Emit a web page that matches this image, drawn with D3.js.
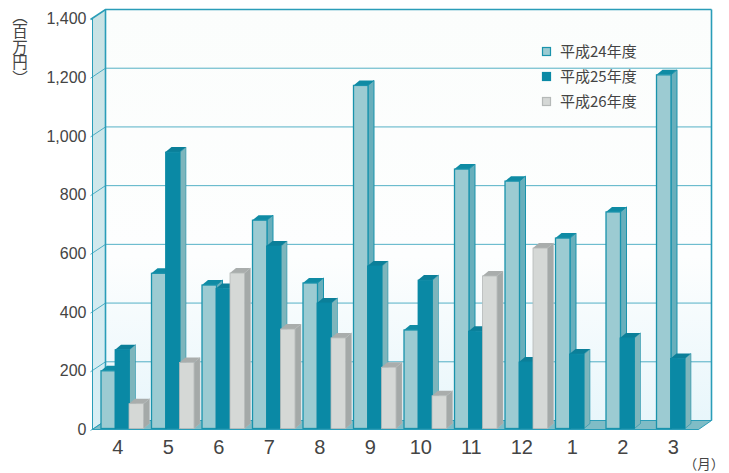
<!DOCTYPE html>
<html>
<head>
<meta charset="utf-8">
<script src="https://cdn.jsdelivr.net/npm/d3@7"></script>
<style>
  html, body { margin: 0; padding: 0; background: #fff; }
  svg { display: block; }
  text { font-family: "Liberation Sans", sans-serif; fill: #444; }
  .cjk { font-family: "Noto Sans CJK JP", sans-serif; }
</style>
</head>
<body>
<div id="chart"></div>
<script>
const WIDTH = 729;
const HEIGHT = 473;

// data
const months = ["4", "5", "6", "7", "8", "9", "10", "11", "12", "1", "2", "3"];
const seriesNames = ["平成24年度", "平成25年度", "平成26年度"];
const h24 = [200, 532, 492, 713, 499, 1172, 339, 887, 846, 652, 741, 1208];
const h25 = [272, 945, 480, 625, 431, 557, 509, 335, 230, 257, 312, 242];
const h26 = [88, 228, 533, 342, 312, 212, 115, 523, 618, null, null, null];
const yTicks = [0, 200, 400, 600, 800, 1000, 1200, 1400];

// front face, side, top
const barColors = [
  { front: "#9ccbd2", side: "#68afbc", top: "#0f8ba4", line: "#1a93ac" },
  { front: "#0a89a5", side: "#7db5bc", top: "#0b7f99", line: "#0a89a5" },
  { front: "#d5d8d6", side: "#a4a9a8", top: "#a9adac", line: "#b5b9b8" },
];

const TEAL = "#2a9db8";
const DX = 13, DY = -9; // depth of the box
const BAR_DX = 6, BAR_DY = -5; // depth of a bar

const svg = d3.select("#chart").append("svg").attr("width", WIDTH).attr("height", HEIGHT);

const x = d3.scaleBand().domain(d3.range(months.length)).range([92.5, 698.5]);
const xBar = d3.scaleBand().domain([0, 1, 2]).range([8.5, 50.5]);
const y = d3.scaleLinear().domain([0, 1400]).range([429.5, 18.5]);

const [x0, x1] = x.range();
const y0 = y(0), yTop = y(1400);
const poly = (pts) => pts.map((p) => p.join(",")).join(" ");

// gradient for the left wall
const defs = svg.append("defs");
const wall = defs.append("linearGradient").attr("id", "wall")
  .attr("x1", "0%").attr("x2", "0%").attr("y1", "0%").attr("y2", "100%");
wall.append("stop").attr("offset", "0%").attr("stop-color", "#c8e2e4");
wall.append("stop").attr("offset", "100%").attr("stop-color", "#d8eff5");

const back = defs.append("linearGradient").attr("id", "back")
  .attr("x1", "0%").attr("x2", "0%").attr("y1", "0%").attr("y2", "100%");
back.append("stop").attr("offset", "0%").attr("stop-color", "#fbfdfc");
back.append("stop").attr("offset", "60%").attr("stop-color", "#fdfefe");
back.append("stop").attr("offset", "100%").attr("stop-color", "#e8f6fb");

// back wall
svg.append("rect")
  .attr("x", x0 + DX).attr("y", yTop + DY)
  .attr("width", x1 - x0).attr("height", y0 - yTop)
  .attr("fill", "url(#back)");

// left wall
svg.append("polygon")
  .attr("points", poly([[x0, yTop], [x0 + DX, yTop + DY], [x0 + DX, y0 + DY], [x0, y0]]))
  .attr("fill", "url(#wall)");

// floor
svg.append("polygon")
  .attr("points", poly([[x0, y0], [x0 + DX, y0 + DY], [x1 + DX, y0 + DY], [x1, y0]]))
  .attr("fill", "#7fbcc6")
  .attr("stroke", TEAL)
  .attr("stroke-width", 1);

// grid lines, wall part and back part
const grid = svg.append("g").attr("fill", "none").attr("stroke", TEAL);
yTicks.forEach((t) => {
  grid.append("polyline")
    .attr("points", poly([[x0 - 2, y(t) + 1], [x0 + DX, y(t) + DY], [x1 + DX, y(t) + DY]]))
    .attr("stroke-width", t === 1400 ? 1.6 : 1)
    .attr("opacity", t === 1400 ? 1 : 0.8);
});

// box frame
grid.append("line").attr("x1", x0).attr("x2", x0).attr("y1", yTop).attr("y2", y0).attr("stroke-width", 1);
grid.append("line").attr("x1", x0 + DX).attr("x2", x0 + DX).attr("y1", yTop + DY).attr("y2", y0 + DY).attr("stroke-width", 1.6);
grid.append("line").attr("x1", x1 + DX).attr("x2", x1 + DX).attr("y1", yTop + DY).attr("y2", y0 + DY).attr("stroke-width", 1.6);

// bars
const bars = svg.append("g");
months.forEach((m, i) => {
  [h24, h25, h26].forEach((values, s) => {
    const v = values[i];
    if (v === null) return;
    const c = barColors[s];
    const bx = x(i) + xBar(s);
    const bw = xBar.bandwidth() + 0.5;
    const by = y(v);
    const bottom = y0 - 1;
    bars.append("polygon")
      .attr("points", poly([[bx + bw, by], [bx + bw + BAR_DX, by + BAR_DY], [bx + bw + BAR_DX, bottom + BAR_DY], [bx + bw, bottom]]))
      .attr("fill", c.side)
      .attr("stroke", c.line)
      .attr("stroke-width", s === 0 ? 1 : 0.5);
    bars.append("polygon")
      .attr("points", poly([[bx, by], [bx + BAR_DX, by + BAR_DY], [bx + bw + BAR_DX, by + BAR_DY], [bx + bw, by]]))
      .attr("fill", c.top);
    bars.append("rect")
      .attr("x", bx).attr("y", by)
      .attr("width", bw).attr("height", bottom - by)
      .attr("fill", c.front)
      .attr("stroke", c.line)
      .attr("stroke-width", s === 0 ? 1.3 : 0.8);
  });
});

// front edge on top of the bars
svg.append("line")
  .attr("x1", x0).attr("x2", x1).attr("y1", y0).attr("y2", y0)
  .attr("stroke", TEAL).attr("stroke-width", 1.2);

// y axis
const yAxis = svg.append("g")
  .attr("transform", `translate(${x0},0)`)
  .call(d3.axisLeft(y).tickValues(yTicks).tickSize(0).tickPadding(6).tickFormat(d3.format(",")));
yAxis.select(".domain").remove();
yAxis.selectAll("text").attr("font-size", 16).style("font-family", "'Liberation Sans', sans-serif").attr("fill", "#484848");

// x axis
const xAxis = svg.append("g")
  .attr("transform", `translate(0,${y0})`)
  .call(d3.axisBottom(x).tickSize(0).tickPadding(10).tickFormat((i) => months[i]));
xAxis.select(".domain").remove();
xAxis.selectAll("text").attr("font-size", 20).style("font-family", "'Liberation Sans', sans-serif").attr("fill", "#484848");

// unit labels
svg.append("text")
  .attr("class", "cjk")
  .attr("x", 20).attr("y", 8)
  .attr("font-size", 15.5)
  .style("writing-mode", "vertical-rl")
  .text("（百万円）");

svg.append("text")
  .attr("class", "cjk")
  .attr("x", 704).attr("y", 469)
  .attr("text-anchor", "middle")
  .attr("font-size", 13.5)
  .text("（月）");

// legend
const legend = svg.append("g").attr("transform", "translate(542,51)");
seriesNames.forEach((name, i) => {
  const row = legend.append("g").attr("transform", `translate(0,${i * 25})`);
  row.append("rect")
    .attr("x", 0.5).attr("y", -3.5)
    .attr("width", 8).attr("height", 8)
    .attr("fill", barColors[i].front)
    .attr("stroke", barColors[i].line)
    .attr("stroke-width", 1.2);
  row.append("text")
    .attr("class", "cjk")
    .attr("x", 18).attr("y", 5.5)
    .attr("font-size", 15)
    .text(name);
});
</script>
</body>
</html>
